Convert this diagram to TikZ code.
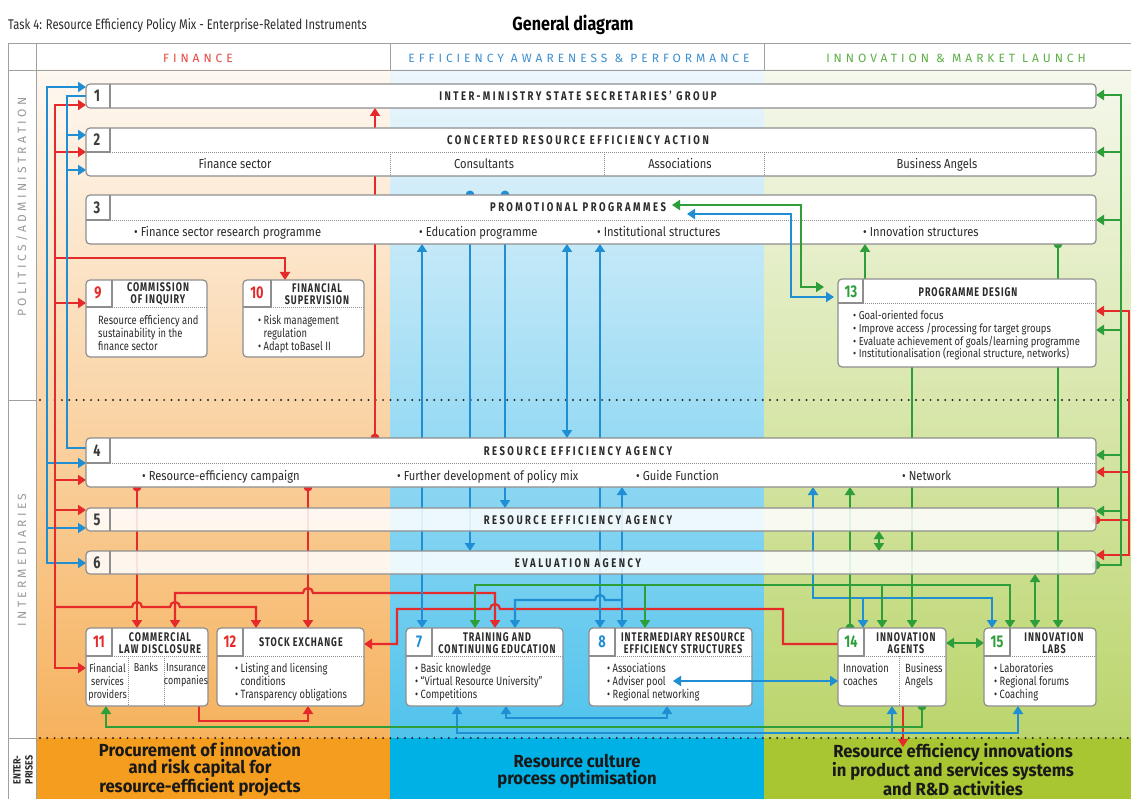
\documentclass[tikz,border=0pt]{standalone}
\usepackage{fontspec}
\setmainfont{Fira Sans}[FakeStretch=0.86]
\newfontfamily\fTtl{Fira Sans}[FakeStretch=0.80]
\newfontfamily\fGd{Fira Sans}[FakeStretch=0.85]
\newfontfamily\fWt{Fira Sans}[FakeStretch=0.76,LetterSpace=20]
\newfontfamily\fSt{Fira Sans}[FakeStretch=0.72,LetterSpace=8]
\newfontfamily\fHd{Fira Sans}[LetterSpace=33]
\newfontfamily\fLb{Fira Sans}[LetterSpace=28]
\newfontfamily\fBd{Fira Sans}[FakeStretch=0.78]
\newfontfamily\fPd{Fira Sans}[FakeStretch=0.82]
\newfontfamily\fNm{Fira Sans}[FakeStretch=0.75]
\newfontfamily\fBt{Fira Sans}[FakeStretch=0.95]
\usetikzlibrary{arrows.meta}
\definecolor{rc}{HTML}{E42A2A}
\definecolor{bc}{HTML}{1F8ED2}
\definecolor{gc}{HTML}{2E9E3A}
\definecolor{hRed}{HTML}{E8463F}
\definecolor{hBlue}{HTML}{3D8FCF}
\definecolor{hGreen}{HTML}{5BAF44}
\definecolor{frameC}{HTML}{A0A0A0}
\definecolor{boxC}{HTML}{8E8E8E}
\definecolor{txtC}{HTML}{2B2B2B}
\definecolor{numC}{HTML}{3C3C3C}
\definecolor{labC}{HTML}{9A9A9A}
\definecolor{finT}{HTML}{FEF8F2}
\definecolor{finM}{HTML}{FBDCBC}
\definecolor{finB}{HTML}{F6B25E}
\definecolor{finE}{HTML}{F49D1E}
\definecolor{effT}{HTML}{EDF6FC}
\definecolor{effM}{HTML}{B8E2F6}
\definecolor{effB}{HTML}{50C3EC}
\definecolor{effE}{HTML}{00B1E5}
\definecolor{innT}{HTML}{F5F8EC}
\definecolor{innM}{HTML}{DFEAC2}
\definecolor{innB}{HTML}{BBD56C}
\definecolor{innE}{HTML}{A8C632}
\pgfdeclarelayer{bglayer}
\pgfdeclarelayer{linelayer}
\pgfdeclarelayer{toplayer}
\pgfsetlayers{bglayer,linelayer,main,toplayer}
\tikzset{
  gridln/.style={draw=frameC, line width=0.8pt},
  dotrow/.style={line width=2.2pt, dash pattern=on 0pt off 7.3pt, line cap=round, draw=black!85},
  boxst/.style={draw=boxC, line width=1.2pt, fill=white, rounded corners=4pt, inner sep=0pt, outer sep=0pt, anchor=north west},
  tboxst/.style={boxst, fill opacity=0.86},
  cellln/.style={draw=boxC, line width=1.1pt},
  dsep/.style={draw=black!45, line width=0.8pt, dash pattern=on 1pt off 1pt},
  con/.style={line width=2.2pt},
  rl/.style={con, draw=rc}, bl/.style={con, draw=bc}, gl/.style={con, draw=gc},
  wtitle/.style={font={\fWt\bfseries\fontsize{12.5}{14}\selectfont}, text=txtC, inner sep=0pt},
  stitle/.style={font={\fSt\bfseries\fontsize{12.5}{12.5}\selectfont}, text=txtC, align=center, inner sep=0pt},
  rowtx/.style={font={\fontsize{13}{15}\selectfont}, text=txtC, inner sep=0pt},
  bodytx/.style={font={\fBd\fontsize{12}{13}\selectfont}, text=txtC, align=left, inner sep=0pt, anchor=north west},
  cbodytx/.style={bodytx, font={\fBd\fontsize{11.5}{13}\selectfont}, align=center, anchor=north},
  pbodytx/.style={font={\fPd\fontsize{11.5}{12.7}\selectfont}, text=txtC, align=left, inner sep=0pt, anchor=north west},
  wnum/.style={font={\fNm\bfseries\fontsize{17}{17}\selectfont}, text=numC, inner sep=0pt},
  bandtx/.style={font={\fBt\bfseries\fontsize{17.5}{17}\selectfont}, text=black!90, align=center, inner sep=0pt},
}
\newcommand\hdcell[5]{\draw[cellln] (#2,#3) -- (#2,#4) -- (#1,#4); \draw[dsep] (#2,#4) -- (#5,#4);}
\begin{document}
\begin{tikzpicture}[x=1pt,y=-1pt,>={Triangle[length=8pt,width=10pt]}]
\useasboundingbox (0,0) rectangle (1131,799);

% ================= boxes =================
\node[boxst, minimum width=1010pt, minimum height=24pt] (b1) at (86,84) {};
\node[boxst, minimum width=1010pt, minimum height=48pt] (b2) at (86,128) {};
\node[boxst, minimum width=1010pt, minimum height=49pt] (b3) at (86,195) {};
\node[boxst, minimum width=1010pt, minimum height=49pt] (b4) at (86,438) {};
\node[tboxst, minimum width=1010pt, minimum height=23pt] (b5) at (86,508) {};
\node[tboxst, minimum width=1010pt, minimum height=23pt] (b6) at (86,551) {};
\node[boxst, minimum width=121pt, minimum height=77pt] (b9) at (86,280) {};
\node[boxst, minimum width=121pt, minimum height=77pt] (b10) at (243,280) {};
\node[boxst, minimum width=122pt, minimum height=78pt] (b11) at (86,628) {};
\node[boxst, minimum width=147pt, minimum height=78pt] (b12) at (217,628) {};
\node[boxst, minimum width=157pt, minimum height=78pt] (b7) at (406,628) {};
\node[boxst, minimum width=163pt, minimum height=78pt] (b8) at (589,628) {};
\node[boxst, minimum width=258pt, minimum height=88pt] (b13) at (838,279) {};
\node[boxst, minimum width=108pt, minimum height=78pt] (b14) at (838,628) {};
\node[boxst, minimum width=112pt, minimum height=78pt] (b15) at (984,628) {};

% cells and separators
\draw[cellln] (110,84) -- (110,108);
\hdcell{86}{110}{128}{152}{1096}
\hdcell{86}{110}{195}{220}{1096}
\hdcell{86}{110}{438}{463}{1096}
\draw[cellln] (110,508) -- (110,531);
\draw[cellln] (110,551) -- (110,574);
\hdcell{86}{112}{280}{307}{207}
\hdcell{243}{271}{280}{307}{364}
\hdcell{86}{112}{628}{656}{208}
\hdcell{217}{243}{628}{656}{364}
\hdcell{406}{432}{628}{656}{563}
\hdcell{589}{615}{628}{656}{752}
\hdcell{838}{863}{279}{303}{1096}
\hdcell{838}{864}{628}{656}{946}
\hdcell{984}{1010}{628}{656}{1096}
\draw[dsep] (390,152) -- (390,176);
\draw[dsep] (604,152) -- (604,176);
\draw[dsep] (764,152) -- (764,176);
\draw[dsep] (128,656) -- (128,706);
\draw[dsep] (164,656) -- (164,706);
\draw[dsep] (899,656) -- (899,706);

% numbers
\node[wnum] (n1) at (97,96) {1};
\node[wnum] (n2) at (97,140) {2};
\node[wnum] (n3) at (97,208) {3};
\node[wnum] (n4) at (97,451) {4};
\node[wnum] (n5) at (97,520) {5};
\node[wnum] (n6) at (97,563) {6};
\node[wnum, text=rc] (n9) at (98,293) {9};
\node[wnum, text=rc] (n10) at (257,293) {10};
\node[wnum, text=rc] (n11) at (99,642) {11};
\node[wnum, text=rc] (n12) at (230,642) {12};
\node[wnum, text=bc] (n7) at (419,642) {7};
\node[wnum, text=bc] (n8) at (602,642) {8};
\node[wnum, text=gc] (n13) at (851,292) {13};
\node[wnum, text=gc] (n14) at (851,642) {14};
\node[wnum, text=gc] (n15) at (997,642) {15};

% wide titles
\node[wtitle] (t1) at (578,96) {INTER-MINISTRY STATE SECRETARIES’ GROUP};
\node[wtitle] (t2) at (578,140) {CONCERTED RESOURCE EFFICIENCY ACTION};
\node[wtitle] (t3) at (578,207.5) {PROMOTIONAL PROGRAMMES};
\node[wtitle] (t4) at (578,451.5) {RESOURCE EFFICIENCY AGENCY};
\node[wtitle] (t5) at (578,520) {RESOURCE EFFICIENCY AGENCY};
\node[wtitle] (t6) at (578,563.5) {EVALUATION AGENCY};

% rows
\node[rowtx, anchor=base] (r2a) at (235,168.5) {Finance sector};
\node[rowtx, anchor=base] (r2b) at (484,168.5) {Consultants};
\node[rowtx, anchor=base] (r2c) at (680,168.5) {Associations};
\node[rowtx, anchor=base] (r2d) at (937,168.5) {Business Angels};
\node[rowtx, anchor=base west] (r3a) at (134,237) {• Finance sector research programme};
\node[rowtx, anchor=base west] (r3b) at (419,237) {• Education programme};
\node[rowtx, anchor=base west] (r3c) at (597,237) {• Institutional structures};
\node[rowtx, anchor=base west] (r3d) at (863,237) {• Innovation structures};
\node[rowtx, anchor=base west] (r4a) at (142,480.5) {• Resource-efficiency campaign};
\node[rowtx, anchor=base west] (r4b) at (397,480.5) {• Further development of policy mix};
\node[rowtx, anchor=base west] (r4c) at (636,480.5) {• Guide Function};
\node[rowtx, anchor=base west] (r4d) at (902,480.5) {• Network};

% small titles
\node[stitle] (s9) at (158,294) {COMMISSION\\OF INQUIRY};
\node[stitle] (s10) at (317,294) {FINANCIAL\\SUPERVISION};
\node[stitle] (s11) at (160,643) {COMMERCIAL\\LAW DISCLOSURE};
\node[stitle] (s12) at (301,642) {STOCK EXCHANGE};
\node[stitle] (s7) at (497,643) {TRAINING AND\\CONTINUING EDUCATION};
\node[stitle] (s8) at (683,643) {INTERMEDIARY RESOURCE\\EFFICIENCY STRUCTURES};
\node[stitle] (s13) at (968,292) {PROGRAMME DESIGN};
\node[stitle] (s14) at (906,643) {INNOVATION\\AGENTS};
\node[stitle] (s15) at (1054,643) {INNOVATION\\LABS};

% bodies
\node[bodytx] (x9) at (98,315) {Resource efficiency and\\sustainability in the\\finance sector};
\node[bodytx] (x10) at (258,315) {• Risk management\\\phantom{• }regulation\\• Adapt toBasel II};
\node[cbodytx] (x11a) at (107.5,663) {Financial\\services\\providers};
\node[cbodytx] (x11b) at (146,663) {Banks};
\node[cbodytx] (x11c) at (186,663) {Insurance\\companies};
\node[bodytx] (x12) at (235,663) {• Listing and licensing\\\phantom{• }conditions\\• Transparency obligations};
\node[bodytx] (x7) at (415,663) {• Basic knowledge\\• “Virtual Resource University”\\• Competitions};
\node[bodytx] (x8) at (607,663) {• Associations\\• Adviser pool\\• Regional networking};
\node[pbodytx] (x13) at (853,310.5) {• Goal-oriented focus\\• Improve access /processing for target groups\\• Evaluate achievement of goals/learning programme\\• Institutionalisation (regional structure, networks)};
\node[bodytx] (x14a) at (843,663) {Innovation\\coaches};
\node[bodytx] (x14b) at (905,663) {Business\\Angels};
\node[bodytx] (x15) at (994,663) {• Laboratories\\• Regional forums\\• Coaching};

% ================= background =================
\begin{pgfonlayer}{bglayer}
\fill[white] (0,0) rectangle (1131,799);
\shade[top color=finT, middle color=finM, bottom color=finB] (36,70) rectangle (390,738);
\shade[top color=effT, middle color=effM, bottom color=effB] (390,70) rectangle (764,738);
\shade[top color=innT, middle color=innM, bottom color=innB] (764,70) rectangle (1131,738);
\fill[finE] (36,738) rectangle (390,799);
\fill[effE] (390,738) rectangle (764,799);
\fill[innE] (764,738) rectangle (1131,799);
\draw[gridln] (8,43) -- (1131,43);
\draw[gridln] (8,70) -- (1131,70);
\draw[gridln] (8,43) -- (8,799);
\draw[gridln] (36,43) -- (36,799);
\draw[gridln] (390,43) -- (390,70);
\draw[gridln] (764,43) -- (764,70);
\draw[gridln] (8,400) -- (36,400);
\draw[gridln] (8,738) -- (36,738);
\draw[dotrow] (40,400) -- (1131,400);
\draw[dotrow] (40,738) -- (1131,738);
\node[font={\fTtl\fontsize{14}{16}\selectfont}, text=txtC, anchor=base west, inner sep=0pt] (ttl) at (8,30) {Task 4: Resource Efficiency Policy Mix - Enterprise-Related Instruments};
\node[font={\fGd\bfseries\fontsize{19}{21}\selectfont}, text=black, anchor=base, inner sep=0pt] (gd) at (573,30.5) {General diagram};
\node[font={\fHd\fontsize{12}{14}\selectfont}, text=hRed, anchor=base, inner sep=0pt] (hF) at (198,62.5) {FINANCE};
\node[font={\fHd\fontsize{12}{14}\selectfont}, text=hBlue, anchor=base, inner sep=0pt] (hE) at (579,62.5) {EFFICIENCY AWARENESS \& PERFORMANCE};
\node[font={\fHd\fontsize{12}{14}\selectfont}, text=hGreen, anchor=base, inner sep=0pt] (hI) at (956,62.5) {INNOVATION \& MARKET LAUNCH};
\node[font={\fLb\fontsize{12}{14}\selectfont}, text=labC, rotate=90, inner sep=0pt] (lP) at (22,207) {POLITICS/ADMINISTRATION};
\node[font={\fLb\fontsize{12}{14}\selectfont}, text=labC, rotate=90, inner sep=0pt] (lI) at (22,560) {INTERMEDIARIES};
\node[font={\fGd\bfseries\fontsize{10.5}{12}\selectfont}, text=txtC, rotate=90, align=center, inner sep=0pt] (lE) at (23,770) {ENTER-\\PRISES};
\node[bandtx] (e1) at (200,769.5) {Procurement of innovation\\and risk capital for\\resource-efficient projects};
\node[bandtx] (e2) at (577,771) {Resource culture\\process optimisation};
\node[bandtx] (e3) at (953,769.5) {Resource efficiency innovations\\in product and services systems\\and R\&D activities};
\end{pgfonlayer}

% ================= connectors =================
\begin{pgfonlayer}{linelayer}
% left blue (outer)
\draw[bl,<->] (b1.west|-0,87) -| (47,300) |- (b6.west|-0,563);
\draw[bl,->] (47,463) -- (b4.west|-0,463);
\draw[bl,->] (47,528) -- (b5.west|-0,528);
% left red
\draw[rl,<->] (b1.west|-0,105) -| (55,400) |- (b11.west|-0,668);
\draw[rl,->] (55,152) -- (b2.west|-0,152);
\draw[rl,->] (55,303) -- (b9.west|-0,303);
\draw[rl,->] (55,480) -- (b4.west|-0,480);
\draw[rl,->] (55,510) -- (b5.west|-0,510);
\draw[rl,->] (55,258) -| (b10.north-|285,0);
\draw[rl,->] (55,607) -- (132,607) arc[start angle=180,end angle=0,radius=5pt] -- (170,607) arc[start angle=180,end angle=0,radius=5pt] -- (256,607) -- (b12.north-|256,0);
% left blue (inner)
\draw[bl] (b1.west|-0,96) -| (67,300) |- (b4.west|-0,448);
\draw[bl,->] (67,135) -- (b2.west|-0,135);
\draw[bl,->] (67,170) -- (b2.west|-0,170);
% finance column red
\fill[rc] (b4.north-|375,0) circle[radius=4.5pt];
\draw[rl,->] (b4.north-|375,0) -- (b1.south-|375,0);
\fill[rc] (b4.south-|137,0) circle[radius=4.5pt];
\draw[rl,->] (b4.south-|137,0) -- (b11.north-|137,0);
\fill[rc] (b4.south-|308,0) circle[radius=4.5pt];
\draw[rl,->] (b4.south-|308,0) -- (b12.north-|308,0);
\draw[rl,<->] (b11.north-|175,0) |- (303,593) arc[start angle=180,end angle=0,radius=5pt] -- (495,593) -- (b7.north-|495,0);
\draw[rl,->] (b14.west|-0,644) -- (783,644) |- (500,609) arc[start angle=0,end angle=180,radius=5pt] -- (397,609) |- (b12.east|-0,644);
\draw[rl,->] (b11.south-|199,0) |- (308,721) -- (b12.south-|308,0);
\coordinate (entr) at (903,747);
\draw[rl,->] (b14.south-|903,0) -- (entr);
% right red
\fill[rc] (b5.east|-0,520) circle[radius=4.5pt];
\draw[rl] (b5.east|-0,520) -- (1129,520);
\draw[rl,<->] (b13.east|-0,311) -| (1129,400) |- (b6.east|-0,555);
\draw[rl,->] (1129,472) -- (b4.east|-0,472);
% right green
\fill[gc] (b6.east|-0,565) circle[radius=4.5pt];
\draw[gl,->] (b6.east|-0,565) -| (1121,300) |- (b1.east|-0,95);
\draw[gl,->] (1121,152) -- (b2.east|-0,152);
\draw[gl,->] (1121,220) -- (b3.east|-0,220);
\draw[gl,->] (1121,330) -- (b13.east|-0,330);
\draw[gl,->] (1121,455) -- (b4.east|-0,455);
\draw[gl,->] (1121,511) -- (b5.east|-0,511);
% middle blue
\draw[bl,<->] (b3.south-|422,0) -- (b7.north-|422,0);
\fill[bc] (b3.north-|470,0) circle[radius=4.5pt];
\draw[bl,->] (b3.north-|470,0) -- (b6.north-|470,0);
\fill[bc] (b3.north-|505,0) circle[radius=4.5pt];
\draw[bl,->] (b3.north-|505,0) -- (b5.north-|505,0);
\draw[bl,<->] (b3.south-|567,0) -- (b4.north-|567,0);
\draw[bl,<->] (b3.south-|600,0) -- (b8.north-|600,0);
\draw[bl,<->] (b4.south-|622,0) -- (b8.north-|622,0);
\draw[bl,->] (622,600) -- (605,600) arc[start angle=0,end angle=180,radius=5pt] -- (515,600) -- (b7.north-|515,0);
\draw[bl,<->] (b7.south-|506,0) |- (667,718) -- (b8.south-|667,0);
\draw[bl,<->] (b7.south-|457,0) |- (1018,733) -- (b15.south-|1018,0);
\draw[bl,->] (892,733) -- (b14.south-|892,0);
\draw[bl,<->] (b4.south-|813,0) |- (992,598) -- (b15.north-|992,0);
\draw[bl,->] (863,598) -- (b14.north-|863,0);
% green
\draw[gl,->] (b13.north-|865,0) -- (b3.south-|865,0);
\fill[gc] (b3.south-|1058,0) circle[radius=4.5pt];
\draw[gl,->] (b3.south-|1058,0) -- (b15.north-|1058,0);
\draw[gl,->] (b13.south-|912,0) -- (b14.north-|912,0);
\draw[gl,->] (912,585) -| (b7.north-|475,0);
\draw[gl,->] (912,585) -| (b15.north-|1010,0);
\draw[gl,->] (645,585) -- (b8.north-|645,0);
\draw[gl,->] (882,585) -- (b14.north-|882,0);
\fill[gc] (b14.north-|850,0) circle[radius=4.5pt];
\draw[gl,->] (b14.north-|850,0) -- (b4.south-|850,0);
\draw[gl,<->] (b5.south-|879,0) -- (b6.north-|879,0);
\draw[gl,<->] (b6.south-|1035,0) -- (b15.north-|1035,0);
\draw[gl,<->] (b14.east|-0,643) -- (b15.west|-0,643);
\fill[gc] (b14.south-|922,0) circle[radius=4.5pt];
\draw[gl,->] (b14.south-|922,0) |- (106,727) -- (b11.south-|106,0);
\end{pgfonlayer}

% ================= overlay connectors =================
\begin{pgfonlayer}{toplayer}
\coordinate (pp1) at (672,205);
\coordinate (pp2) at (687,214);
\coordinate (adv) at (673,681);
\draw[gl,<->,shorten >=14pt] (pp1) -| (801,287) -- (b13.west|-0,287);
\draw[bl,<->,shorten >=4pt] (pp2) -| (791,297) -- (b13.west|-0,297);
\draw[bl,<->] (adv) -- (b14.west|-0,681);
\end{pgfonlayer}
\end{tikzpicture}
\end{document}
